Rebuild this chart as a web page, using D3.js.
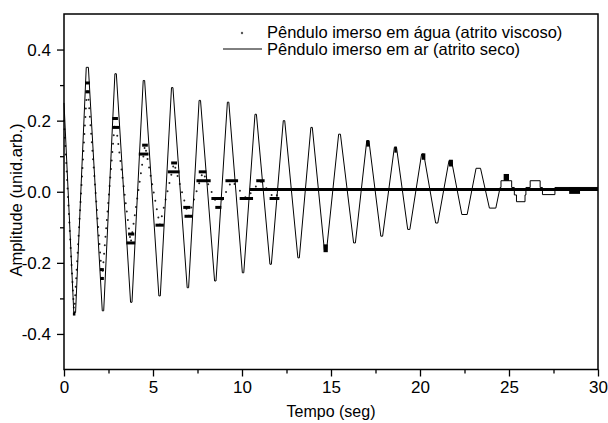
<!DOCTYPE html>
<html>
<head>
<meta charset="utf-8">
<script src="https://cdn.jsdelivr.net/npm/d3@7"></script>
<style>
  body { margin: 0; background: #fff; }
  text { font-family: Arial, "Liberation Sans", Helvetica, sans-serif; fill: #000; }
</style>
</head>
<body>
<svg id="chart" width="608" height="423"></svg>
<script>
// pendulo no ar (atrito seco) - vertices
var arTempo = [0.00, 0.55, 0.65, 1.25, 1.37, 2.15, 2.23, 2.86, 2.94, 3.74, 3.82, 4.45, 4.53,
  5.33, 5.41, 6.04, 6.12, 6.92, 7.00, 7.59, 7.67, 8.46, 8.54, 9.18, 9.26, 10.02, 10.10,
  10.73, 10.81, 11.57, 11.65, 12.32, 12.40, 13.14, 13.22, 13.87, 13.95, 14.63, 14.75,
  15.43, 15.53, 16.27, 16.37, 17.01, 17.13, 17.80, 17.90, 18.56, 18.68, 19.31, 19.43,
  20.09, 20.21, 20.88, 21.00, 21.63, 21.77, 22.35, 22.65, 23.15, 23.40, 23.90, 24.26,
  24.50, 24.55, 24.55, 25.15, 25.15, 25.30, 25.30, 25.42, 25.42, 25.90, 25.90, 25.95,
  25.95, 26.19, 26.19, 26.75, 26.75, 26.88, 26.88, 27.58, 27.58, 30.00];
var arAmp = [0.25, -0.34, -0.34, 0.35, 0.35, -0.335, -0.335, 0.332, 0.332, -0.311, -0.311, 0.313, 0.313,
  -0.293, -0.293, 0.293, 0.293, -0.27, -0.27, 0.257, 0.257, -0.251, -0.251, 0.252, 0.252, -0.228, -0.228,
  0.218, 0.218, -0.204, -0.204, 0.2, 0.2, -0.186, -0.186, 0.181, 0.181, -0.165, -0.165,
  0.162, 0.162, -0.144, -0.144, 0.144, 0.144, -0.125, -0.125, 0.125, 0.125, -0.106, -0.106,
  0.106, 0.106, -0.088, -0.088, 0.088, 0.088, -0.064, -0.064, 0.066, 0.066, -0.046, -0.046,
  0.012, 0.012, 0.031, 0.031, 0.012, 0.012, -0.009, -0.009, -0.028, -0.028, -0.009, -0.009,
  0.012, 0.012, 0.031, 0.031, 0.012, 0.012, -0.008, -0.008, 0.012, 0.012];

// trechos em que o sinal do ar oscila rapido entre dois niveis (ficam pretos)
var arBlocoIni = [14.58, 16.98, 18.56, 20.10, 21.63, 24.70, 28.38];
var arBlocoFim = [14.82, 17.16, 18.70, 20.30, 21.85, 25.00, 28.99];
var arBlocoMin = [-0.170, 0.127, 0.110, 0.090, 0.071, 0.031, -0.006];
var arBlocoMax = [-0.148, 0.144, 0.127, 0.108, 0.090, 0.050, 0.012];

// pendulo na agua (atrito viscoso) - extremos
var aguaTempo = [0.00, 0.57, 1.31, 2.14, 2.87, 3.75, 4.55, 5.38, 6.18, 7.00, 7.80, 8.67,
  9.42, 10.25, 11.03, 11.82, 12.20, 30.00];
var aguaAmp = [0.20, -0.344, 0.306, -0.244, 0.206, -0.144, 0.131, -0.094, 0.081, -0.069, 0.056, -0.044,
  0.031, -0.019, 0.031, -0.019, 0.006, 0.006];

// patamares da agua (pontos repetidos no mesmo nivel)
var aguaPatIni = [0.50, 1.18, 1.20, 2.04, 2.02, 2.71, 2.71, 3.50, 3.60, 4.39, 4.20, 5.14,
  6.02, 5.83, 6.70, 6.77, 7.57, 7.44, 8.28, 8.50, 9.07, 9.87, 10.80, 11.55, 10.43];
var aguaPatFim = [0.64, 1.45, 1.45, 2.24, 2.24, 3.03, 3.12, 4.00, 3.95, 4.71, 4.75, 5.61,
  6.35, 6.49, 7.10, 7.23, 8.00, 8.24, 8.99, 8.84, 9.78, 10.62, 11.27, 12.10, 30.00];
var aguaPatAmp = [-0.344, 0.306, 0.281, -0.244, -0.219, 0.206, 0.181, -0.144, -0.119, 0.131, 0.106, -0.094,
  0.081, 0.056, -0.044, -0.069, 0.056, 0.031, -0.019, -0.044, 0.031, -0.019, 0.031, -0.019, 0.006];

var xTicks = [0, 5, 10, 15, 20, 25, 30];
var xMinor = [2.5, 7.5, 12.5, 17.5, 22.5, 27.5];
var yTicks = [-0.4, -0.2, 0.0, 0.2, 0.4];
var yMinor = [-0.3, -0.1, 0.1, 0.3];

var legendas = ["Pêndulo imerso em água (atrito viscoso)", "Pêndulo imerso em ar (atrito seco)"];

var svg = d3.select("#chart");

var x = d3.scaleLinear().domain([0, 30]).range([64, 598]);
var y = d3.scaleLinear().domain([-0.5, 0.5]).range([369.5, 14]);

// eixos
var gx = svg.append("g").attr("transform", "translate(0," + y(-0.5) + ")")
  .call(d3.axisBottom(x).tickValues(xTicks).tickSize(7).tickPadding(4));
var gxm = svg.append("g").attr("transform", "translate(0," + y(-0.5) + ")")
  .call(d3.axisBottom(x).tickValues(xMinor).tickSize(4).tickFormat(""));
var gy = svg.append("g").attr("transform", "translate(" + x(0) + ",0)")
  .call(d3.axisLeft(y).tickValues(yTicks).tickSize(7).tickPadding(6)
    .tickFormat(function(d) { return d.toFixed(1); }));
var gym = svg.append("g").attr("transform", "translate(" + x(0) + ",0)")
  .call(d3.axisLeft(y).tickValues(yMinor).tickSize(4).tickFormat(""));

[gx, gxm, gy, gym].forEach(function(g) {
  g.select(".domain").remove();
  g.selectAll(".tick line").attr("stroke", "#000").attr("stroke-width", 1.3);
  g.selectAll("text").attr("font-size", 17).attr("font-family", null);
});

// agua: pontos
var idxAgua = d3.range(aguaTempo.length);
svg.append("path")
  .attr("d", d3.line().x(function(i) { return x(aguaTempo[i]); }).y(function(i) { return y(aguaAmp[i]); })(idxAgua))
  .attr("fill", "none")
  .attr("stroke", "#222")
  .attr("stroke-width", 2)
  .attr("stroke-linecap", "round")
  .attr("stroke-dasharray", "0 8.5");

svg.selectAll(".patamar")
  .data(d3.range(aguaPatIni.length))
  .enter().append("line")
    .attr("class", "patamar")
    .attr("x1", function(i) { return x(aguaPatIni[i]); })
    .attr("x2", function(i) { return x(aguaPatFim[i]); })
    .attr("y1", function(i) { return y(aguaPatAmp[i]); })
    .attr("y2", function(i) { return y(aguaPatAmp[i]); })
    .attr("stroke", "#000")
    .attr("stroke-width", 3);

// ar: linha continua
var idxAr = d3.range(arTempo.length);
svg.append("path")
  .attr("d", d3.line().x(function(i) { return x(arTempo[i]); }).y(function(i) { return y(arAmp[i]); })(idxAr))
  .attr("fill", "none")
  .attr("stroke", "#000")
  .attr("stroke-width", 1);

svg.selectAll(".bloco")
  .data(d3.range(arBlocoIni.length))
  .enter().append("rect")
    .attr("class", "bloco")
    .attr("x", function(i) { return x(arBlocoIni[i]); })
    .attr("width", function(i) { return x(arBlocoFim[i]) - x(arBlocoIni[i]); })
    .attr("y", function(i) { return y(arBlocoMax[i]); })
    .attr("height", function(i) { return y(arBlocoMin[i]) - y(arBlocoMax[i]); })
    .attr("fill", "#000");

// moldura
svg.append("rect")
  .attr("x", x(0)).attr("y", y(0.5))
  .attr("width", x(30) - x(0)).attr("height", y(-0.5) - y(0.5))
  .attr("fill", "none").attr("stroke", "#000").attr("stroke-width", 1.5);

// legenda
svg.append("circle").attr("cx", 242).attr("cy", 33).attr("r", 1.2).attr("fill", "#555");
svg.append("line").attr("x1", 223).attr("x2", 262).attr("y1", 49).attr("y2", 49)
  .attr("stroke", "#000").attr("stroke-width", 1);
svg.selectAll(".leg")
  .data(legendas)
  .enter().append("text")
    .attr("class", "leg")
    .attr("x", 267)
    .attr("y", function(d, i) { return 38 + i * 17; })
    .attr("font-size", 16.5)
    .text(function(d) { return d; });

// titulos
svg.append("text").attr("x", 331).attr("y", 417).attr("text-anchor", "middle")
  .attr("font-size", 16).text("Tempo (seg)");
svg.append("text").attr("transform", "translate(22,200) rotate(-90)").attr("text-anchor", "middle")
  .attr("font-size", 16.5).text("Amplitude (unid.arb.)");
</script>
</body>
</html>
